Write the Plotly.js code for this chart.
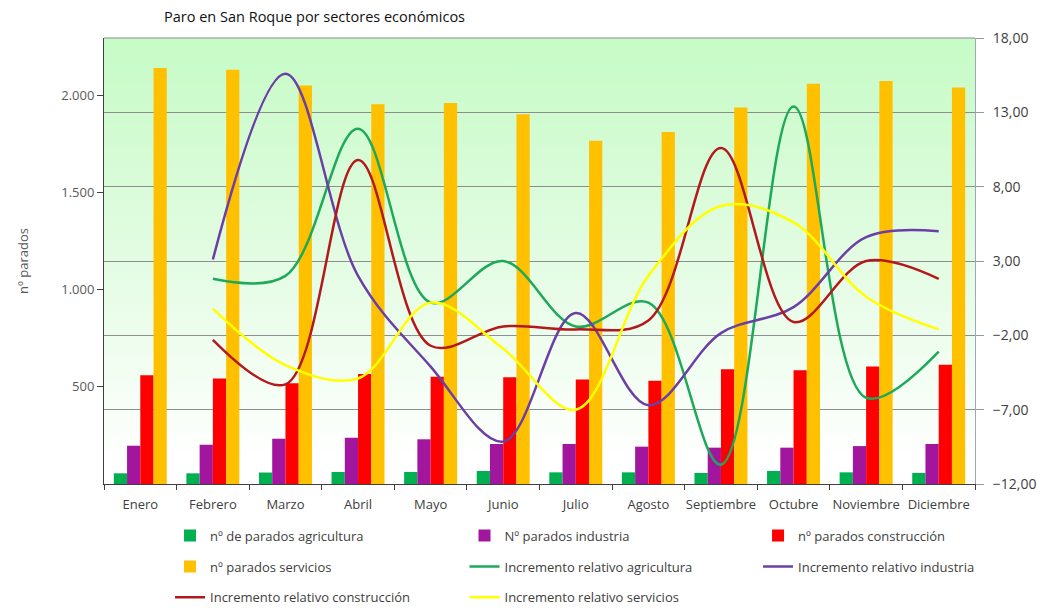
<!DOCTYPE html>
<html>
<head>
<meta charset="utf-8">
<script src="https://cdn.plot.ly/plotly-3.0.1.min.js"></script>
<style>html,body{margin:0;padding:0;background:#fff;}#chart{width:1045px;height:608px;}</style>
</head>
<body>
<div id="chart"></div>
<script>
const months = ['Enero','Febrero','Marzo','Abril','Mayo','Junio','Julio','Agosto','Septiembre','Octubre','Noviembre','Diciembre'];
const paradosAgricultura = [55, 55, 59, 62, 62, 67, 60, 60, 57, 67, 60, 57];
const paradosIndustria = [197, 202, 233, 238, 230, 206, 206, 192, 187, 187, 195, 206];
const paradosConstruccion = [559, 543, 518, 566, 552, 549, 538, 531, 590, 585, 605, 613];
const paradosServicios = [2141, 2132, 2051, 1954, 1960, 1902, 1766, 1811, 1937, 2060, 2074, 2040];
const incAgricultura = [null, 1.8, 2.0, 11.9, 0.2, 3.0, -1.4, 0.2, -10.7, 13.4, -6.2, -3.1];
const incIndustria = [null, 3.1, 15.6, 2.0, -4.1, -9.15, -0.5, -6.7, -1.85, -0.1, 4.6, 5.0];
const incConstruccion = [null, -2.3, -5.3, 9.8, -2.7, -1.4, -1.6, -1.0, 10.6, -1.1, 3.0, 1.8];
const incServicios = [null, -0.2, -4.0, -4.9, 0.2, -2.9, -7.0, 2.0, 6.7, 5.6, 0.6, -1.6];
const rightTicks = [-12, -7, -2, 3, 8, 13, 18];
const leftTicks = [500, 1000, 1500, 2000];

const FONT = 'Open Sans, Noto Sans, sans-serif';

function bar(name, y, color, legend, grp) {
  return {type:'bar', name:name, x:months, y:y, marker:{color:color}, yaxis:'y', legend:legend, legendgroup:grp, hoverinfo:'y+name'};
}
function line(name, y, color, legend, grp) {
  return {type:'scatter', mode:'lines', name:name, x:months, y:y, yaxis:'y2',
    line:{color:color, width:2.5, shape:'spline', smoothing:1}, legend:legend, legendgroup:grp, connectgaps:false};
}

const traces = [
  bar('nº de parados agricultura', paradosAgricultura, '#00B050', 'legend', 'a'),
  bar('Nº parados industria', paradosIndustria, '#A2169E', 'legend2', 'b'),
  bar('nº parados construcción', paradosConstruccion, '#FF0000', 'legend3', 'c'),
  bar('nº parados servicios', paradosServicios, '#FFC000', 'legend', 'd'),
  line('Incremento relativo agricultura', incAgricultura, '#1EA85A', 'legend2', 'e'),
  line('Incremento relativo industria', incIndustria, '#6B3FA5', 'legend3', 'f'),
  line('Incremento relativo construcción', incConstruccion, '#B3191C', 'legend', 'g'),
  line('Incremento relativo servicios', incServicios, '#FFFF00', 'legend2', 'h')
];

const svg = '<svg xmlns="http://www.w3.org/2000/svg" width="100" height="100" preserveAspectRatio="none">' +
  '<defs><linearGradient id="g" x1="0" y1="0" x2="0" y2="1">' +
  '<stop offset="0" stop-color="#c6fbc6"/><stop offset="0.5" stop-color="#e3fce3"/><stop offset="0.95" stop-color="#ffffff"/>' +
  '</linearGradient></defs><rect width="100" height="100" fill="url(#g)"/></svg>';
const bgUri = 'data:image/svg+xml;charset=utf-8,' + encodeURIComponent(svg);

function legendAt(x) {
  return {x:x, xref:'paper', xanchor:'left', y:-0.082, yanchor:'top', orientation:'v',
    bgcolor:'rgba(0,0,0,0)', borderwidth:0, tracegroupgap:11,
    font:{family:FONT, size:13, color:'#404040'}};
}

const layout = {
  width:1045, height:608,
  margin:{l:104, r:70, t:38, b:124, autoexpand:false},
  paper_bgcolor:'#ffffff', plot_bgcolor:'rgba(0,0,0,0)',
  separators:',.',
  font:{family:FONT, size:13, color:'#595959'},
  title:{text:'Paro en San Roque por sectores económicos', xref:'container', x:0.301, xanchor:'center',
    y:0.972, yanchor:'middle', font:{family:FONT, size:14.5, color:'#111111'}},
  barmode:'group', bargap:0.27, bargroupgap:0,
  showlegend:true,
  legend:legendAt(0.0758),
  legend2:legendAt(0.4139),
  legend3:legendAt(0.7509),
  xaxis:{type:'category', tickson:'boundaries', ticks:'outside', ticklen:5, tickcolor:'#404040',
    showline:true, linecolor:'#404040', mirror:false, showgrid:false, tickangle:0, automargin:false,
    ticklabelstandoff:8,
    tickfont:{family:FONT, size:13, color:'#404040'}},
  yaxis:{range:[0, 2295], tickvals:leftTicks, tickformat:',.0f', ticks:'outside', ticklen:6, tickcolor:'#404040',
    showline:true, linecolor:'#404040', showgrid:false, zeroline:false, automargin:false,
    tickfont:{family:FONT, size:13, color:'#595959'},
    title:{text:'nº parados', standoff:29, font:{family:FONT, size:13, color:'#595959'}}},
  yaxis2:{overlaying:'y', side:'right', range:[-12, 18], tickvals:rightTicks, tickformat:'.2f',
    ticks:'outside', ticklen:8, tickcolor:'#8a9aaa', showline:true, linecolor:'#9aa8b8', automargin:false,
    ticklabelstandoff:6,
    showgrid:true, gridcolor:'#8e8e8e', gridwidth:1, zeroline:false,
    tickfont:{family:FONT, size:14, color:'#404040'}},
  shapes:[{type:'line', xref:'paper', yref:'paper', x0:0, x1:1, y0:1, y1:1, line:{color:'#8e8e8e', width:1}}],
  images:[{source:bgUri, xref:'paper', yref:'paper', x:0, y:1, sizex:1, sizey:1, sizing:'stretch', layer:'below', xanchor:'left', yanchor:'top'}]
};

Plotly.newPlot('chart', traces, layout, {displayModeBar:false, staticPlot:true});
</script>
</body>
</html>
